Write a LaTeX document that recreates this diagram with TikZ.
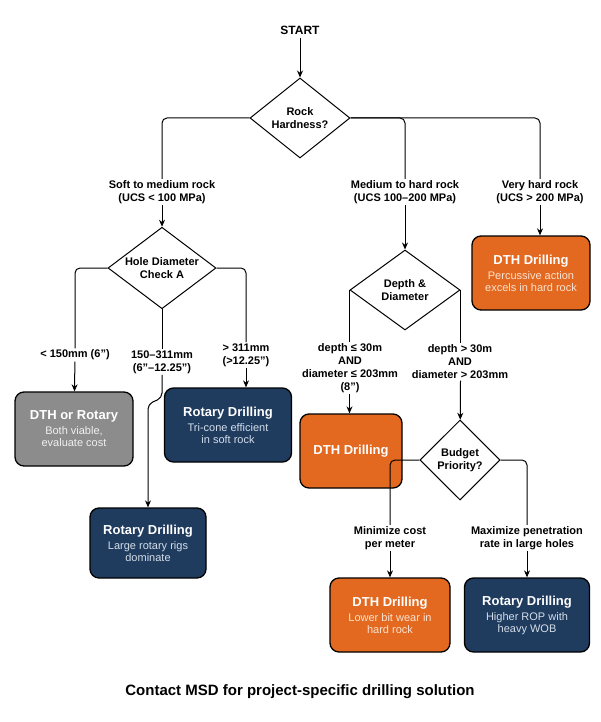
\documentclass[tikz,border=0pt]{standalone}
\usepackage{fontspec}
\setmainfont{Liberation Sans}
\usetikzlibrary{shapes.geometric,arrows.meta}
\definecolor{org}{HTML}{E2691F}
\definecolor{nav}{HTML}{1F3B5E}
\definecolor{gry}{HTML}{8C8C8C}
\definecolor{orgt}{HTML}{FBE3D2}
\definecolor{navt}{HTML}{D4DEEA}
\definecolor{gryt}{HTML}{F0F0F0}
\newcommand\myttl{\color{white}\bfseries\fontsize{13}{15}\selectfont}
\newcommand\mysub{\fontsize{11}{13}\selectfont}
\begin{document}
\begin{tikzpicture}[x=1pt,y=-1pt,
  line width=1pt, >={Stealth[length=7pt,width=6pt]},
  dia/.style={diamond,draw,fill=white,aspect=1.3,inner sep=1pt,align=center,font=\bfseries\fontsize{11}{13}\selectfont},
  lab/.style={align=center,font=\bfseries\fontsize{11}{13}\selectfont,fill=white,inner sep=1pt},
  box/.style={draw=black,line width=1.3pt,rounded corners=9pt,align=center,minimum height=74pt}]
\useasboundingbox (0,0) rectangle (600,722);
\node[font=\bfseries\fontsize{12}{14}\selectfont] (start) at (300,30) {START};
\node[dia,minimum width=100pt,minimum height=80pt] (d1) at (300,118) {Rock\\Hardness?};
\node[lab] (l1) at (162,192) {Soft to medium rock\\(UCS < 100 MPa)};
\node[lab] (l2) at (405,192) {Medium to hard rock\\(UCS 100–200 MPa)};
\node[lab] (l3) at (540,192) {Very hard rock\\(UCS > 200 MPa)};
\node[dia,minimum width=108pt,minimum height=64pt] (d2) at (162,268) {Hole Diameter\\Check A};
\node[lab] (a1) at (75,355) {< 150mm (6”)};
\node[lab] (a2) at (162,362) {150–311mm\\(6”–12.25”)};
\node[lab] (a3) at (246,355) {> 311mm\\(>12.25”)};
\node[box,fill=gry,minimum width=118pt] (b1) at (74,429) {{\myttl DTH or Rotary}\\[3pt]{\color{gryt}\mysub Both viable,}\\{\color{gryt}\mysub evaluate cost}};
\node[box,fill=nav,minimum width=127pt] (b2) at (228,425) {{\myttl Rotary Drilling}\\[3pt]{\color{navt}\mysub Tri-cone efficient}\\{\color{navt}\mysub in soft rock}};
\node[box,fill=nav,minimum width=116pt,minimum height=70pt] (b3) at (148,543) {{\myttl Rotary Drilling}\\[3pt]{\color{navt}\mysub Large rotary rigs}\\{\color{navt}\mysub dominate}};
\node[box,fill=org,minimum width=118pt] (b4) at (531,273) {{\myttl DTH Drilling}\\[3pt]{\color{orgt}\mysub Percussive action}\\{\color{orgt}\mysub excels in hard rock}};
\node[dia,minimum width=110pt,minimum height=80pt] (d3) at (405,290) {Depth \&\\Diameter};
\node[lab] (c1) at (350,368) {depth ≤ 30m\\AND\\diameter ≤ 203mm\\(8”)};
\node[lab] (c2) at (460,362) {depth > 30m\\AND\\diameter > 203mm};
\node[box,fill=org,minimum width=102pt,minimum height=74pt] (b5) at (351,451) {{\myttl DTH Drilling}};
\node[dia,minimum width=80pt,minimum height=80pt] (d4) at (460,460) {Budget\\Priority?};
\node[lab] (e1) at (390,538) {Minimize cost\\per meter};
\node[lab] (e2) at (527,538) {Maximize penetration\\rate in large holes};
\node[box,fill=org,minimum width=120pt] (b6) at (390,615) {{\myttl DTH Drilling}\\[3pt]{\color{orgt}\mysub Lower bit wear in}\\{\color{orgt}\mysub hard rock}};
\node[box,fill=nav,minimum width=125pt] (b7) at (527,615) {{\myttl Rotary Drilling}\\[3pt]{\color{navt}\mysub Higher ROP with}\\{\color{navt}\mysub heavy WOB}};
\node[font=\bfseries\fontsize{15}{17}\selectfont] (foot) at (300,692) {Contact MSD for project-specific drilling solution};
\begin{scope}[rounded corners=5pt]
\draw[->] (start) -- (d1);
\draw (d1.west) -| (l1.north);
\draw (d1.east) -| (l3.north);
\draw (d1.east) -| (l2.north);
\draw[->] (l1) -- (d2);
\draw[->] (l2) -- (d3);
\draw[->] (l3) -- (l3 |- b4.north);
\draw (d2.west) -| (a1.north);
\draw (d2.east) -| (a3.north);
\draw (d2.south) -- (a2.north);
\draw[->] (a1) -- (b1);
\draw[->] (a3) -- (a3 |- b2.north);
\draw[->] (a2.south) -- (162,398) -- (148,404) -- (b3.north);
\draw (d3.west) -- (d3.west |- c1.north);
\draw (d3.east) -- (d3.east |- c2.north);
\draw[->] (c1.south -| d3.west) -- (d3.west |- b5.north);
\draw[->] (c2.south -| d3.east) -- (d4);
\draw (d4.west) -| (e1.north);
\draw (d4.east) -| (e2.north);
\draw[->] (e1) -- (b6);
\draw[->] (e2) -- (b7);
\end{scope}
\end{tikzpicture}
\end{document}
